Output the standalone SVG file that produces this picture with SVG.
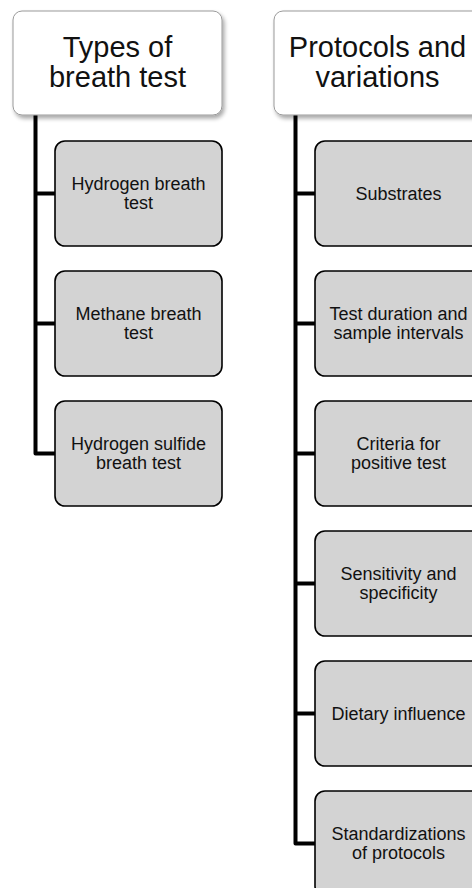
<svg xmlns="http://www.w3.org/2000/svg" width="472" height="888" viewBox="0 0 472 888">
<defs>
<filter id="sh" x="-10%" y="-10%" width="130%" height="140%">
<feGaussianBlur in="SourceAlpha" stdDeviation="2.2"/>
<feOffset dx="1.5" dy="3" result="b"/>
<feComponentTransfer><feFuncA type="linear" slope="0.35"/></feComponentTransfer>
<feMerge><feMergeNode/><feMergeNode in="SourceGraphic"/></feMerge>
</filter>
</defs>
<style>
.hd{fill:#fff;stroke:#9a9a9a;stroke-width:1;}
.ch{fill:#d3d3d3;stroke:#000;stroke-width:1.6;}
.ht{font-family:"Liberation Sans",Arial,sans-serif;font-size:29px;fill:#111;text-anchor:middle;}
.ct{font-family:"Liberation Sans",Arial,sans-serif;font-size:18px;fill:#111;text-anchor:middle;}
.cn{fill:none;stroke:#000;stroke-width:4;stroke-linejoin:round;}
</style>
<rect width="472" height="888" fill="#fff"/>
<g id="connectors">
<path class="cn" d="M35.5 115 V453.5 H55"/>
<path class="cn" d="M35.5 193.5 H55"/>
<path class="cn" d="M35.5 323.5 H55"/>
<path class="cn" d="M295.5 115 V843.5 H315"/>
<path class="cn" d="M295.5 193.5 H315"/>
<path class="cn" d="M295.5 323.5 H315"/>
<path class="cn" d="M295.5 453.5 H315"/>
<path class="cn" d="M295.5 583.5 H315"/>
<path class="cn" d="M295.5 713.5 H315"/>
</g>
<g id="h1">
<rect class="hd" x="13" y="11" width="209" height="104" rx="9" filter="url(#sh)"/>
<text class="ht" x="117.5" y="57">Types of</text>
<text class="ht" x="117.5" y="87">breath test</text>
</g>
<g id="h2">
<rect class="hd" x="274" y="11" width="209" height="104" rx="9" filter="url(#sh)"/>
<text class="ht" x="377.5" y="57">Protocols and</text>
<text class="ht" x="377.5" y="87">variations</text>
</g>
<g id="c1">
<rect class="ch" x="55" y="141" width="167" height="105" rx="10"/>
<text class="ct" x="138.5" y="190">Hydrogen breath</text>
<text class="ct" x="138.5" y="208.6">test</text>
</g>
<g id="c2">
<rect class="ch" x="55" y="271" width="167" height="105" rx="10"/>
<text class="ct" x="138.5" y="320">Methane breath</text>
<text class="ct" x="138.5" y="338.6">test</text>
</g>
<g id="c3">
<rect class="ch" x="55" y="401" width="167" height="105" rx="10"/>
<text class="ct" x="138.5" y="450">Hydrogen sulfide</text>
<text class="ct" x="138.5" y="468.6">breath test</text>
</g>
<g id="r1">
<rect class="ch" x="315" y="141" width="167" height="105" rx="10"/>
<text class="ct" x="398.5" y="199.5">Substrates</text>
</g>
<g id="r2">
<rect class="ch" x="315" y="271" width="167" height="105" rx="10"/>
<text class="ct" x="398.5" y="320">Test duration and</text>
<text class="ct" x="398.5" y="338.6">sample intervals</text>
</g>
<g id="r3">
<rect class="ch" x="315" y="401" width="167" height="105" rx="10"/>
<text class="ct" x="398.5" y="450">Criteria for</text>
<text class="ct" x="398.5" y="468.6">positive test</text>
</g>
<g id="r4">
<rect class="ch" x="315" y="531" width="167" height="105" rx="10"/>
<text class="ct" x="398.5" y="580">Sensitivity and</text>
<text class="ct" x="398.5" y="598.6">specificity</text>
</g>
<g id="r5">
<rect class="ch" x="315" y="661" width="167" height="105" rx="10"/>
<text class="ct" x="398.5" y="719.5">Dietary influence</text>
</g>
<g id="r6">
<rect class="ch" x="315" y="791" width="167" height="105" rx="10"/>
<text class="ct" x="398.5" y="840">Standardizations</text>
<text class="ct" x="398.5" y="858.6">of protocols</text>
</g>
</svg>
